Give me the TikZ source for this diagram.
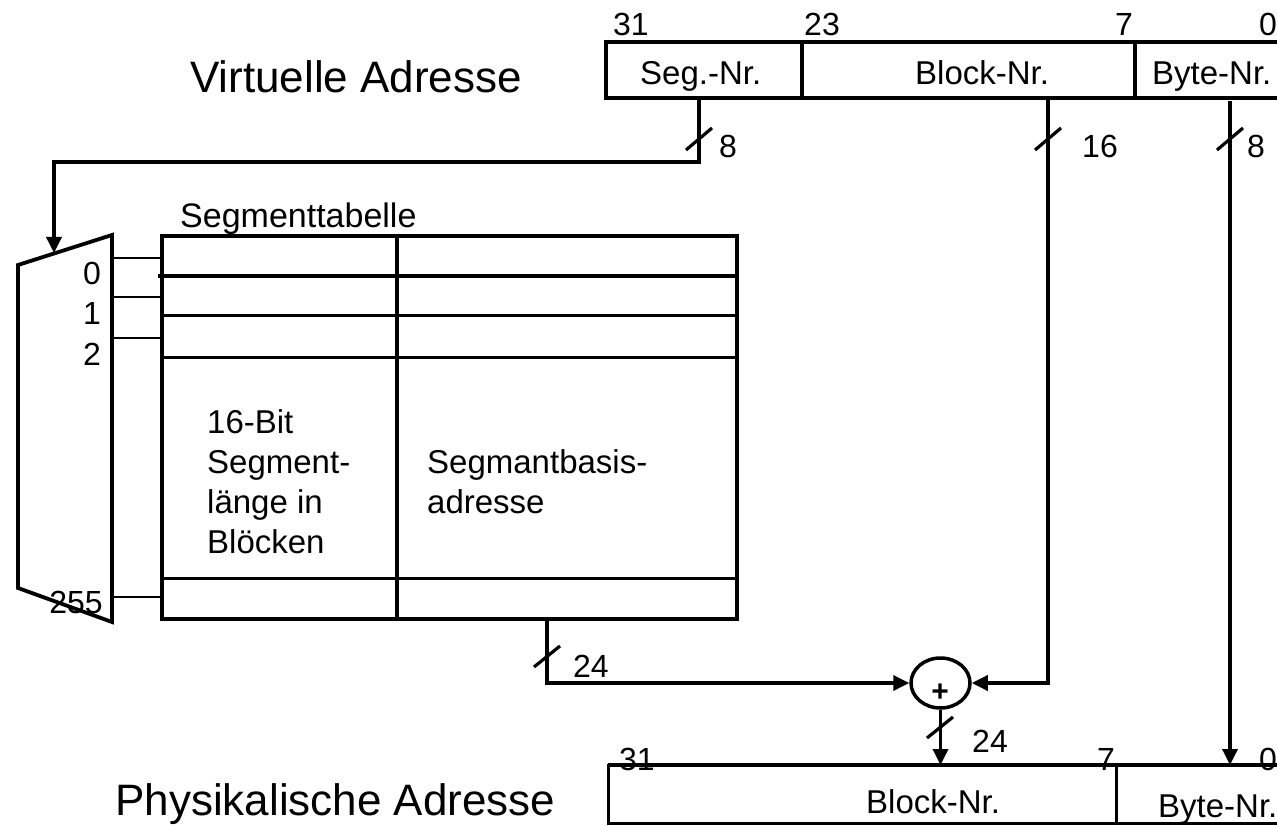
\documentclass[tikz,border=0pt]{standalone}
\usepackage{fontspec}
\setmainfont{Liberation Sans}
\usetikzlibrary{arrows.meta,shapes.geometric}
\begin{document}
\begin{tikzpicture}[x=1pt,y=-1pt,
  box/.style={line width=3.8pt},
  inner/.style={line width=3pt},
  conn/.style={line width=3.5pt},
  tip/.style={-{Triangle[length=16pt,width=15pt]}},
  wire/.style={line width=2pt},
  slash/.style={line width=3.2pt},
  big/.style={font=\fontsize{44}{50}\selectfont, inner sep=0pt},
  mid/.style={font=\fontsize{32}{38}\selectfont, inner sep=0pt},
  fld/.style={font=\fontsize{33}{38}\selectfont, inner sep=0pt},
  tab/.style={font=\fontsize{33}{40}\selectfont, inner sep=0pt, align=left},
  ttl/.style={font=\fontsize{34}{40}\selectfont, inner sep=0pt}]
\useasboundingbox (0,0) rectangle (1277,826);
\clip (0,0) rectangle (1277,826);

% ---- titles
\node[big, anchor=base west] (va) at (190,93) {Virtuelle Adresse};
\node[big, anchor=base west] (pa) at (115,815) {Physikalische Adresse};

% ---- virtual address register
\draw[box] (606,42) rectangle (1300,98);
\draw[box] (802,42) -- (802,98);
\draw[box] (1135,42) -- (1135,98);
\node[mid, anchor=base west] (v31) at (613,36) {31};
\node[mid, anchor=base west] (v23) at (804,36) {23};
\node[mid, anchor=base west] (v7) at (1115,36) {7};
\node[mid, anchor=base west] (v0) at (1259,36) {0};
\node[fld, anchor=base west] (vseg) at (640,85) {Seg.-Nr.};
\node[fld, anchor=base west] (vblk) at (915,85) {Block-Nr.};
\node[fld, anchor=base west] (vbyte) at (1152,85) {Byte-Nr.};
\coordinate (segout) at (699,98);
\coordinate (blkout) at (1048,98);
\coordinate (byteout) at (1230,101);

% ---- multiplexer
\draw[box, line join=miter] (18,265) -- (112,235) -- (112,622) -- (18,588) -- cycle;
\coordinate (muxin) at (54,253);
\coordinate (segbend) at (54,162);
\node[mid, anchor=base east] (m0) at (101,285) {0};
\node[mid, anchor=base east] (m1) at (101,325) {1};
\node[mid, anchor=base east] (m2) at (101,365) {2};
\node[mid, anchor=base east] (m255) at (103,613) {255};

% ---- segment table
\node[ttl, anchor=base west] (st) at (180,228) {Segmenttabelle};
\draw[box] (162,236) rectangle (737,619);
\draw[box] (397,236) -- (397,619);
\draw[box] (158,276) -- (737,276);
\draw[inner] (162,316) -- (737,316);
\draw[inner] (162,357) -- (737,357);
\draw[inner] (162,578) -- (737,578);
\draw[wire] (112,258) -- (164,258);
\draw[wire] (112,297) -- (164,297);
\draw[wire] (112,338) -- (164,338);
\draw[wire] (112,597) -- (164,597);
\node[tab, anchor=base west] (c1a) at (207,433) {16-Bit};
\node[tab, anchor=base west] (c1b) at (207,473) {Segment-};
\node[tab, anchor=base west] (c1c) at (207,513) {länge in};
\node[tab, anchor=base west] (c1d) at (207,553) {Blöcken};
\node[tab, anchor=base west] (c2a) at (427,473) {Segmantbasis-};
\node[tab, anchor=base west] (c2b) at (427,513) {adresse};
\coordinate (tabout) at (547,619);

% ---- adder
\node[draw, ellipse, line width=3.5pt, minimum width=59pt, minimum height=50pt, inner sep=0pt] (sum) at (940.5,683) {};
\node[font=\fontsize{30}{30}\selectfont\bfseries, inner sep=0pt] (plus) at (940,693) {+};

% ---- physical address register
\draw[inner] (608,765) rectangle (1300,823);
\draw[box] (608,765) -- (1300,765);
\draw[inner] (1116,765) -- (1116,823);
\node[mid, anchor=base west] (p31) at (619,770) {31};
\node[mid, anchor=base west] (p7) at (1097,770) {7};
\node[mid, anchor=base west] (p0) at (1259,770) {0};
\node[fld, anchor=base west] (pblk) at (866,813) {Block-Nr.};
\node[fld, anchor=base west] (pbyte) at (1158,817) {Byte-Nr.};
\coordinate (phyblk) at (940.5,765);
\coordinate (phybyte) at (1230,765);

% ---- connectors
\draw[conn, tip] (segout) |- (segbend) -- (muxin);
\draw[conn, tip] (tabout) |- (sum.west);
\draw[conn, tip] (blkout) |- (sum.east);
\draw[conn, tip] (sum.south) -- (phyblk);
\draw[conn, tip] (byteout) -- (phybyte);

% ---- bus width marks
\draw[slash] (686,150) -- (712,128);
\node[mid, anchor=base west] (w8a) at (719,158) {8};
\draw[slash] (1035,150) -- (1061,128);
\node[mid, anchor=base west] (w16) at (1082,158) {16};
\draw[slash] (1217,150) -- (1243,128);
\node[mid, anchor=base west] (w8b) at (1247,158) {8};
\draw[slash] (534,667) -- (560,646);
\node[mid, anchor=base west] (w24a) at (573,677) {24};
\draw[slash] (927,738) -- (953,717);
\node[mid, anchor=base west] (w24b) at (972,752) {24};
\end{tikzpicture}
\end{document}
